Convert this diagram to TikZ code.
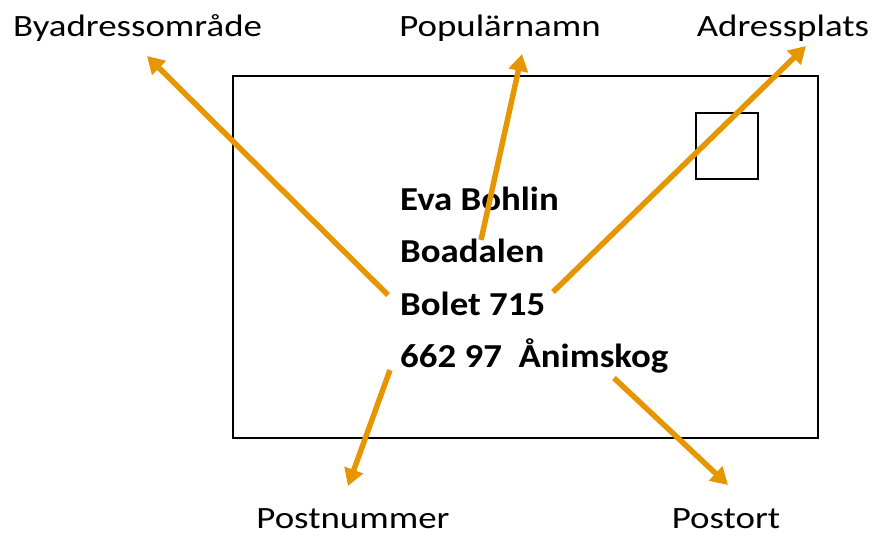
\documentclass[tikz,border=0pt]{standalone}
\usepackage{fontspec}
\setmainfont{Carlito}
\newfontfamily\lblfont[FakeStretch=1.19]{Carlito}
\newfontfamily\addrfont[FakeStretch=1.10]{Carlito}
\usetikzlibrary{arrows.meta}
\definecolor{arrorange}{RGB}{230,150,0}
\tikzset{
  lbl/.style={font=\lblfont\fontsize{31}{36}\selectfont, inner sep=0pt, anchor=base},
  addr/.style={font=\addrfont\fontsize{33.5}{40}\selectfont\bfseries, inner sep=0pt, anchor=base west},
  callout/.style={draw=arrorange, line width=5.5pt, -{Triangle[length=17pt,width=19pt]}},
  frame/.style={draw=black, line width=1.6pt}
}
\begin{document}
\begin{tikzpicture}[x=1pt,y=-1pt]
\useasboundingbox (0,0) rectangle (875,536);
\draw[frame] (233,76) rectangle (818,438);
\draw[frame] (696,113) rectangle (758,179);
\node[addr] (l1) at (400,210) {Eva Bohlin};
\node[addr] (l2) at (400,262) {Boadalen};
\node[addr] (l3) at (400,315) {Bolet 715};
\node[addr] (l4) at (400,367) {662 97\ \ Ånimskog};
\node[lbl] (by) at (137.5,36) {Byadressområde};
\node[lbl] (pop) at (500,36) {Populärnamn};
\node[lbl] (adr) at (783,36) {Adressplats};
\node[lbl] (pnr) at (353,528.5) {Postnummer};
\node[lbl] (port) at (726,528.5) {Postort};
\coordinate (s1) at (388,295);
\coordinate (t1) at (147,56);
\coordinate (s2) at (481,240);
\coordinate (t2) at (522,54);
\coordinate (s3) at (553,292);
\coordinate (t3) at (806,46);
\coordinate (s4) at (390,370);
\coordinate (t4) at (348,486);
\coordinate (s5) at (614,378);
\coordinate (t5) at (728,485);
\draw[callout] (s1) -- (t1);
\draw[callout] (s2) -- (t2);
\draw[callout] (s3) -- (t3);
\draw[callout] (s4) -- (t4);
\draw[callout] (s5) -- (t5);
\end{tikzpicture}
\end{document}
